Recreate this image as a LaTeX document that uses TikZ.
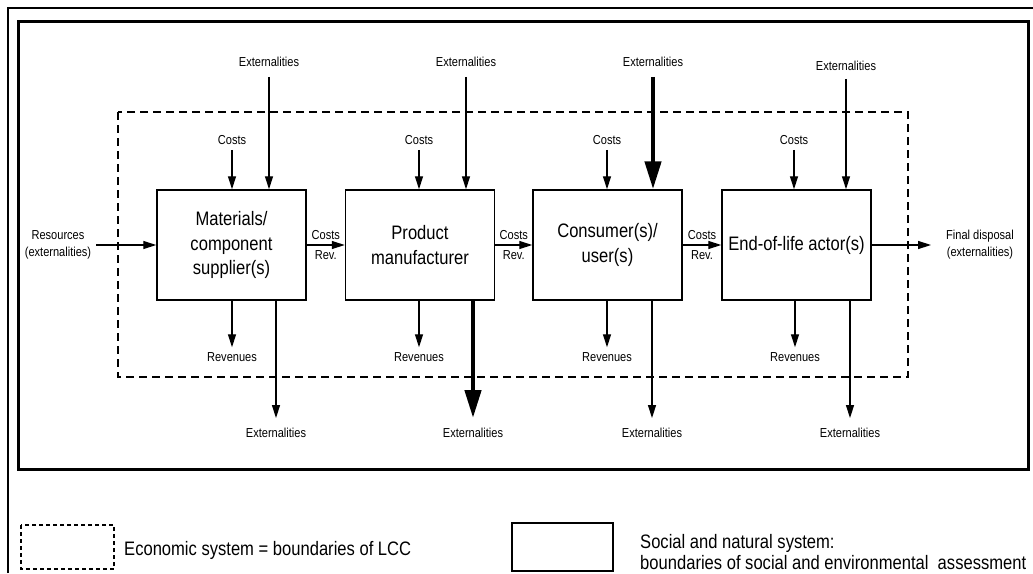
\documentclass[tikz,border=0pt]{standalone}
\usepackage{fontspec}
\setmainfont[FakeStretch=0.85]{Liberation Sans}
\usetikzlibrary{arrows.meta,positioning}

\tikzset{
  actor/.style={draw, line width=1.5pt, minimum width=149pt, minimum height=110pt,
    inner sep=0pt, align=center, font=\fontsize{19.5}{24.5}\selectfont},
  lbl/.style={font=\fontsize{13}{17}\selectfont, inner sep=5pt, align=center},
  legend/.style={font=\fontsize{19.5}{21}\selectfont, inner sep=3pt},
  flow/.style={line width=1.3pt, -{Triangle[length=13pt,width=8pt]}},
  bigflow/.style={line width=4.5pt, -{Triangle[length=28pt,width=16pt]}},
}

\begin{document}
\begin{tikzpicture}[x=1pt, y=-1pt]
  \useasboundingbox (0,0) rectangle (1033,573);

  % frames
  \draw[line width=1.2pt] (8,573) -- (8,8) -- (1033,8);
  \draw[line width=3pt] (18,21) rectangle (1028,469);
  \draw[line width=1.5pt, dash pattern=on 8pt off 5pt] (118,112) rectangle (908,377);

  % actors in the chain
  \node[actor] (mat) at (231.5,245) {Materials/\\component\\supplier(s)};
  \node[actor] (man) at (420,245) {Product\\manufacturer};
  \node[actor] (con) at (607.5,245) {Consumer(s)/\\user(s)};
  \node[actor] (eol) at (796.5,245) {End-of-life actor(s)};

  % costs in
  \node[lbl] (cmat) at (232,140) {Costs};
  \node[lbl] (cman) at (419,140) {Costs};
  \node[lbl] (ccon) at (607,140) {Costs};
  \node[lbl] (ceol) at (794,140) {Costs};
  \draw[flow] (cmat) -- (cmat |- mat.north);
  \draw[flow] (cman) -- (cman |- man.north);
  \draw[flow] (ccon) -- (ccon |- con.north);
  \draw[flow] (ceol) -- (ceol |- eol.north);

  % externalities in
  \node[lbl] (xmat) at (269,62) {Externalities};
  \node[lbl] (xman) at (466,62) {Externalities};
  \node[lbl] (xcon) at (653,62) {Externalities};
  \node[lbl] (xeol) at (846,66) {Externalities};
  \draw[flow, shorten <=5pt] (xmat) -- (xmat |- mat.north);
  \draw[flow, shorten <=5pt] (xman) -- (xman |- man.north);
  \draw[bigflow, shorten <=5pt] (xcon) -- (xcon |- con.north);
  \draw[flow, shorten <=3pt] (xeol) -- (xeol |- eol.north);

  % revenues out
  \node[lbl] (rmat) at (232,357) {Revenues};
  \node[lbl] (rman) at (419,357) {Revenues};
  \node[lbl] (rcon) at (607,357) {Revenues};
  \node[lbl] (reol) at (795,357) {Revenues};
  \draw[flow] (rmat |- mat.south) -- (rmat);
  \draw[flow] (rman |- man.south) -- (rman);
  \draw[flow] (rcon |- con.south) -- (rcon);
  \draw[flow] (reol |- eol.south) -- (reol);

  % externalities out
  \node[lbl] (ymat) at (276,433) {Externalities};
  \node[lbl] (yman) at (473,433) {Externalities};
  \node[lbl] (ycon) at (652,433) {Externalities};
  \node[lbl] (yeol) at (850,433) {Externalities};
  \draw[flow, shorten >=5pt] (ymat |- mat.south) -- (ymat);
  \draw[bigflow, shorten >=5pt] (yman |- man.south) -- (yman);
  \draw[flow, shorten >=5pt] (ycon |- con.south) -- (ycon);
  \draw[flow, shorten >=5pt] (yeol |- eol.south) -- (yeol);

  % chain
  \node[lbl] (res) at (58,245) {Resources\\(externalities)};
  \node[lbl] (fin) at (980,245) {Final disposal\\(externalities)};
  \draw[flow] (res) -- (mat);
  \draw[flow] (mat) -- node[lbl, above] (cr1) {Costs} node[lbl, below] (rr1) {Rev.} (man);
  \draw[flow] (man) -- node[lbl, above] (cr2) {Costs} node[lbl, below] (rr2) {Rev.} (con);
  \draw[flow] (con) -- node[lbl, above] (cr3) {Costs} node[lbl, below] (rr3) {Rev.} (eol);
  \draw[flow, shorten >=10pt] (eol) -- (fin);

  % legend
  \draw[line width=1.5pt, dash pattern=on 4pt off 3pt] (21,525) rectangle (114,569);
  \node[legend, anchor=base west] (leco) at (121,555) {Economic system = boundaries of LCC};
  \draw[line width=2.5pt] (512,523) rectangle (613,571);
  \node[legend, anchor=west, align=left] (lsoc) at (637,552)
    {Social and natural system:\\boundaries of social and environmental\ \ assessment};

\end{tikzpicture}
\end{document}
